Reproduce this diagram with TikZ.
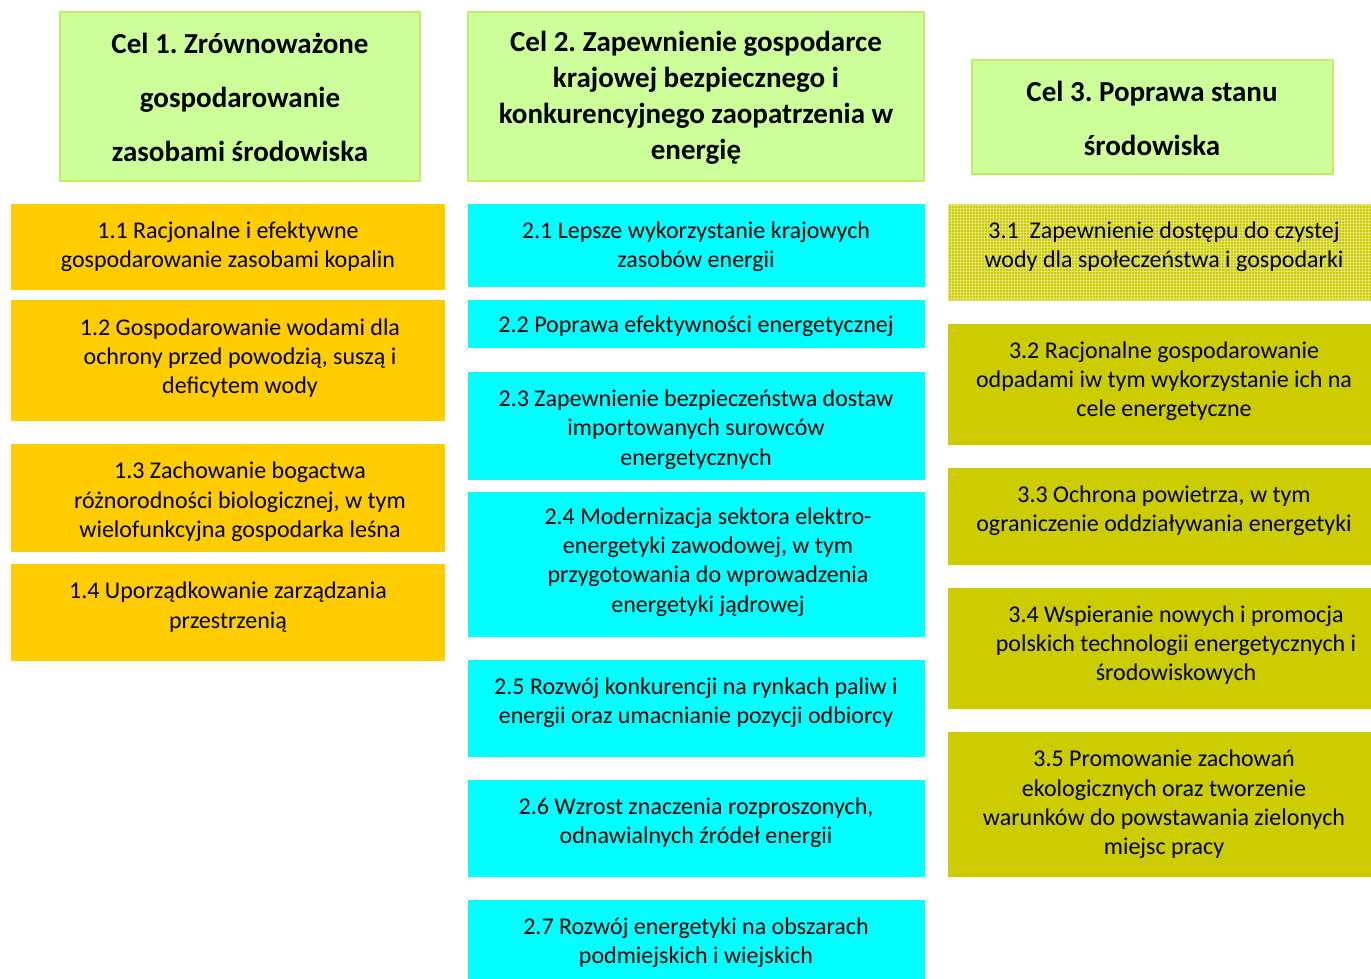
\documentclass[tikz,border=0pt]{standalone}
\usepackage{fontspec}
\setmainfont{Carlito}
\frenchspacing
\usetikzlibrary{patterns}
\definecolor{goalfill}{RGB}{204,255,153}
\definecolor{goalline}{RGB}{198,236,100}
\definecolor{orangebox}{RGB}{255,204,0}
\definecolor{cyanbox}{RGB}{0,255,255}
\definecolor{olivebox}{RGB}{204,204,0}
\definecolor{olivegrid}{RGB}{226,226,110}
\definecolor{oliveline}{RGB}{228,228,70}
\tikzset{
  boxbase/.style={rectangle, inner sep=0pt, outer sep=0pt},
  goal/.style={boxbase, fill=goalfill, draw=goalline, line width=1.6pt},
  aimone/.style={boxbase, fill=orangebox},
  aimtwo/.style={boxbase, fill=cyanbox},
  aimthree/.style={boxbase, fill=olivebox},
  aimgrid/.style={boxbase, fill=olivebox, draw=oliveline, line width=0.8pt,
    postaction={pattern=grid, pattern color=olivegrid}},
  txt/.style={align=center, inner sep=0pt, yshift=-2pt, font=\fontsize{24}{29.4}\selectfont},
  goaltxt/.style={align=center, inner sep=0pt, yshift=-1pt, font=\fontsize{29}{54}\selectfont\bfseries},
  goaltxtn/.style={align=center, inner sep=0pt, yshift=-2pt, font=\fontsize{29}{36}\selectfont\bfseries},
}
\begin{document}
\begin{tikzpicture}[x=1pt, y=-1pt]
\useasboundingbox (0,0) rectangle (1371,979);

% goal headers
\node[goal, minimum width=360, minimum height=169] (g1) at (240,96.5) {};
\node[goaltxt] (g1t) at (240,96) {Cel 1. Zrównoważone\\gospodarowanie\\zasobami środowiska};
\node[goal, minimum width=456, minimum height=169] (g2) at (696,96.5) {};
\node[goaltxtn] (g2t) at (696,96) {Cel 2. Zapewnienie gospodarce\\krajowej bezpiecznego i\\konkurencyjnego zaopatrzenia w\\energię};
\node[goal, minimum width=361, minimum height=114] (g3) at (1152.5,117) {};
\node[goaltxt] (g3t) at (1152,117) {Cel 3. Poprawa stanu\\środowiska};

% column 1
\node[aimone, minimum width=434, minimum height=86] (a11) at (228,247) {};
\node[txt] (a11t) at (228,244.5) {1.1 Racjonalne i efektywne\\gospodarowanie zasobami kopalin};
\node[aimone, minimum width=434, minimum height=121] (a12) at (228,360.5) {};
\node[txt] (a12t) at (240,356) {1.2 Gospodarowanie wodami dla\\ochrony przed powodzią, suszą i\\deficytem wody};
\node[aimone, minimum width=434, minimum height=108] (a13) at (228,498) {};
\node[txt] (a13t) at (240,500) {1.3 Zachowanie bogactwa\\różnorodności biologicznej, w tym\\wielofunkcyjna gospodarka leśna};
\node[aimone, minimum width=434, minimum height=97] (a14) at (228,612.5) {};
\node[txt] (a14t) at (228,605) {1.4 Uporządkowanie zarządzania\\przestrzenią};

% column 2
\node[aimtwo, minimum width=457, minimum height=83] (a21) at (696.5,245.5) {};
\node[txt] (a21t) at (696,244.5) {2.1 Lepsze wykorzystanie krajowych\\zasobów energii};
\node[aimtwo, minimum width=457, minimum height=48] (a22) at (696.5,324) {};
\node[txt] (a22t) at (696,324) {2.2 Poprawa efektywności energetycznej};
\node[aimtwo, minimum width=457, minimum height=108] (a23) at (696.5,426) {};
\node[txt] (a23t) at (696,427.7) {2.3 Zapewnienie bezpieczeństwa dostaw\\importowanych surowców\\energetycznych};
\node[aimtwo, minimum width=457, minimum height=145] (a24) at (696.5,564.5) {};
\node[txt] (a24t) at (708,560) {2.4 Modernizacja sektora elektro-\\energetyki zawodowej, w tym\\przygotowania do wprowadzenia\\energetyki jądrowej};
\node[aimtwo, minimum width=457, minimum height=97] (a25) at (696.5,708.5) {};
\node[txt] (a25t) at (696,701) {2.5 Rozwój konkurencji na rynkach paliw i\\energii oraz umacnianie pozycji odbiorcy};
\node[aimtwo, minimum width=457, minimum height=97] (a26) at (696.5,828.5) {};
\node[txt] (a26t) at (696,820.5) {2.6 Wzrost znaczenia rozproszonych,\\odnawialnych źródeł energii};
\node[aimtwo, minimum width=457, minimum height=79] (a27) at (696.5,939.5) {};
\node[txt] (a27t) at (696,940.5) {2.7 Rozwój energetyki na obszarach\\podmiejskich i wiejskich};

% column 3
\node[aimgrid, minimum width=423, minimum height=96] (a31) at (1159.5,252) {};
\node[txt] (a31t) at (1164,244.5) {3.1~ Zapewnienie dostępu do czystej\\wody dla społeczeństwa i gospodarki};
\node[aimthree, minimum width=423, minimum height=121] (a32) at (1159.5,384.5) {};
\node[txt] (a32t) at (1164,379.3) {3.2 Racjonalne gospodarowanie\\odpadami iw tym wykorzystanie ich na\\cele energetyczne};
\node[aimthree, minimum width=423, minimum height=97] (a33) at (1159.5,516.5) {};
\node[txt] (a33t) at (1164,508.5) {3.3 Ochrona powietrza, w tym\\ograniczenie oddziaływania energetyki};
\node[aimthree, minimum width=423, minimum height=121] (a34) at (1159.5,648.5) {};
\node[txt] (a34t) at (1176,643) {3.4 Wspieranie nowych i promocja\\polskich technologii energetycznych i\\środowiskowych};
\node[aimthree, minimum width=423, minimum height=145] (a35) at (1159.5,804.5) {};
\node[txt] (a35t) at (1164,802.5) {3.5 Promowanie zachowań\\ekologicznych oraz tworzenie\\warunków do powstawania zielonych\\miejsc pracy};
\end{tikzpicture}
\end{document}
